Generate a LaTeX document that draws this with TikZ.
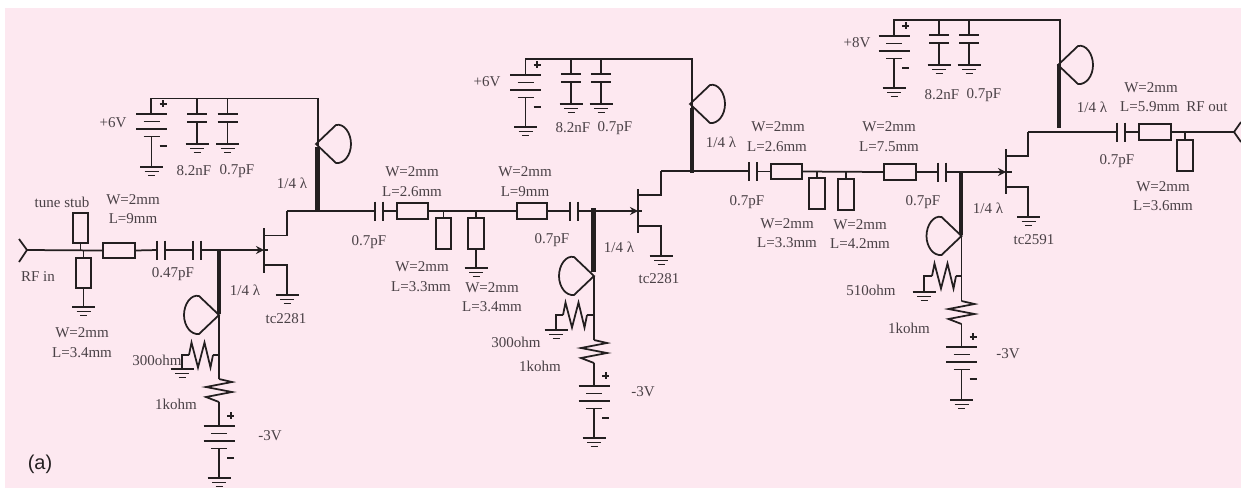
\documentclass[tikz,border=0pt]{standalone}
\usepackage{fontspec}
\setmainfont{Liberation Serif}
\newfontfamily\labsans{Liberation Sans}
\usetikzlibrary{arrows.meta}
\definecolor{pinkbg}{HTML}{FDE8F0}
\definecolor{ink}{HTML}{231F20}
\definecolor{txt}{HTML}{4A4146}
\newcounter{lbl}
\newcommand{\Lab}[3]{\stepcounter{lbl}\node[lab] (t\thelbl) at (#1,#2) {#3};}
\tikzset{
  wire/.style={draw=ink,line width=1.75pt},
  thickline/.style={draw=ink,line width=4.5pt},
  lab/.style={inner sep=0pt,text=txt,font=\fontsize{15}{15}\selectfont},
  tl/.style={rectangle,draw=ink,line width=1.75pt,inner sep=0pt,minimum width=#1},
  tl/.default=31pt,
  gndsym/.pic={\draw[wire] (-11.5,0)--(11.5,0) (-7,4.5)--(7,4.5) (-3.5,8.5)--(3.5,8.5);},
  batsym/.pic={
    \draw[wire] (-15.5,0)--(15.5,0) (-8,7.5)--(8,7.5) (-15.5,15)--(15.5,15) (-8,22.5)--(8,22.5);
    \draw[draw=ink,line width=2pt] (8,-10.5)--(15,-10.5) (11.5,-14)--(11.5,-7) (8,32)--(15,32);},
  capser/.pic={\draw[wire] (0,-9.5)--(0,9.5) (8,-9.5)--(8,9.5);},
  capshu/.pic={\draw[wire] (-10,0)--(10,0) (-10,8)--(10,8);},
  stubsym/.pic={\draw[wire] (0,0)--(20,-19) .. controls (28,-21) and (35,-11) .. (35,0) .. controls (35,11) and (28,20) .. (20,19) -- cycle;},
  resv/.pic={\draw[wire,line join=miter] (0,0)--(13,3)--(-13,8)--(13,13)--(-13,18)--(0,23);},
  resh/.pic={\draw[wire,line join=miter] (0,0)--(2.5,-12.5)--(9,12.5)--(15.5,-12.5)--(21.5,12.5)--(24,0);},
  fetbar/.style={draw=ink,line width=2pt},
  arr/.style={wire,-{Stealth[length=8pt,width=8pt]}}
}
\begin{document}
\begin{tikzpicture}[x=1pt,y=-1pt]
\useasboundingbox (0,0) rectangle (1241,488);
\fill[white] (0,0) rectangle (1241,488);
\fill[pinkbg] (5,8) rectangle (1241,488);

% ---------- input
\coordinate (rfin) at (27,250);
\draw[wire] (19,239)--(rfin)--(19,262);
\node[tl,minimum width=32pt,minimum height=15pt] (in1) at (119,250.5) {};
\node[tl,minimum width=15pt,minimum height=30pt] (tune) at (80.5,228) {};
\node[tl,minimum width=15pt,minimum height=30pt] (in2) at (83.5,273) {};
\draw[wire] (rfin)--(in1.west);
\draw[wire] (80.5,250)--(tune.south);
\draw[wire] (83.5,250)--(in2.north);
\pic at (83.5,307) {gndsym};
\draw[wire] (in2.south)--(83.5,307);
\pic at (157,250) {capser};
\pic at (193,250) {capser};
\draw[wire] (in1.east)--(157,250) (165,250)--(193,250);

% ---------- FET 1
\coordinate (g1) at (264,250);
\draw[arr] (201,250)--(g1);
\draw[wire] (g1)--(268,250);
\draw[fetbar] (264,228)--(264,273);
\draw[wire] (264,235.5)--(287,235.5)--(287,211);
\draw[wire] (264,265)--(287,265)--(287,295);
\pic at (287,295) {gndsym};

% ---------- gate bias 1
\draw[thickline] (219,250)--(219,314);
\pic[xscale=-1] at (219,315) {stubsym};
\draw[wire] (219,315)--(219,379);
\draw[wire] (219,355)--(213,355);
\pic at (189,355) {resh};
\draw[wire] (189,355)--(182,355)--(182,369);
\pic at (182,369) {gndsym};
\pic at (219,379) {resv};
\draw[wire] (219,402)--(219,426);
\pic at (219,426) {batsym};
\draw[wire] (219,448.5)--(219,478);
\pic at (219,478) {gndsym};

% ---------- drain bias 1
\draw[wire] (151,114)--(151,98.5)--(318,98.5)--(318,146);
\pic at (151.5,114) {batsym};
\draw[wire] (151.5,136.5)--(151.5,167);
\pic at (151.5,167) {gndsym};
\draw[wire] (197,98.5)--(197,114) (197,122)--(197,144);
\pic at (197,114) {capshu};
\pic at (197,144) {gndsym};
\draw[wire] (227.5,98.5)--(227.5,114) (227.5,122)--(227.5,144);
\pic at (227.5,114) {capshu};
\pic at (227.5,144) {gndsym};
\pic at (316,144) {stubsym};
\draw[thickline] (317.5,147)--(317.5,211);

% ---------- interstage 1-2
\node[tl,minimum width=31pt,minimum height=16pt] (s1) at (412.5,211) {};
\node[tl,minimum width=15pt,minimum height=31pt] (sh1) at (443.5,233.5) {};
\node[tl,minimum width=16pt,minimum height=31pt] (sh2) at (476,233.5) {};
\node[tl,minimum width=30pt,minimum height=16pt] (s2) at (532,211) {};
\draw[wire] (287,211)--(375,211) (383,211)--(s1.west);
\pic at (375,211) {capser};
\draw[wire] (s1.east)--(s2.west);
\draw[wire] (443.5,211)--(sh1.north);
\draw[wire] (476,211)--(sh2.north);
\draw[wire] (sh2.south)--(476,268);
\pic at (476,268) {gndsym};
\pic at (570,211) {capser};
\draw[wire] (s2.east)--(570,211);

% ---------- FET 2
\coordinate (g2) at (638,211);
\draw[arr] (578,211)--(g2);
\draw[wire] (g2)--(642,211);
\draw[fetbar] (638,189)--(638,233);
\draw[wire] (638,195)--(661,195)--(661,171);
\draw[wire] (638,226)--(661,226)--(661,256);
\pic at (661,256) {gndsym};

% ---------- gate bias 2
\draw[thickline] (593.5,208)--(593.5,272);
\pic[xscale=-1] at (594,276) {stubsym};
\draw[wire] (594,276)--(594,340);
\draw[wire] (594,315)--(587,315);
\pic at (563,315) {resh};
\draw[wire] (563,315)--(556,315)--(556,330);
\pic at (556,330) {gndsym};
\pic at (594,340) {resv};
\draw[wire] (594,363)--(594,386);
\pic at (594,386) {batsym};
\draw[wire] (594,408.5)--(594,438);
\pic at (594,438) {gndsym};

% ---------- drain bias 2
\draw[wire] (525.5,75)--(525.5,59)--(692,59)--(692,108);
\pic at (525.5,75) {batsym};
\draw[wire] (525.5,97.5)--(525.5,127);
\pic at (525.5,127) {gndsym};
\draw[wire] (571,59)--(571,74) (571,82)--(571,104);
\pic at (571,74) {capshu};
\pic at (571,104) {gndsym};
\draw[wire] (601,59)--(601,74) (601,82)--(601,104);
\pic at (601,74) {capshu};
\pic at (601,104) {gndsym};
\pic at (690,104) {stubsym};
\draw[thickline] (692,108)--(692,173);

% ---------- interstage 2-3
\node[tl,minimum width=31pt,minimum height=15pt] (s3) at (786.5,171.5) {};
\node[tl,minimum width=16pt,minimum height=31pt] (sh3) at (817,193.5) {};
\node[tl,minimum width=16pt,minimum height=31pt] (sh4) at (846,194.5) {};
\node[tl,minimum width=32pt,minimum height=16pt] (s4) at (900,172) {};
\draw[wire] (661,171)--(749,171) (757,171.5)--(s3.west);
\pic at (749,171.5) {capser};
\draw[wire] (s3.east)--(s4.west);
\draw[wire] (817,171.5)--(sh3.north);
\draw[wire] (846,171.5)--(sh4.north);
\pic at (938,172) {capser};
\draw[wire] (s4.east)--(938,172);

% ---------- FET 3
\coordinate (g3) at (1006,172);
\draw[arr] (946,172)--(g3);
\draw[wire] (g3)--(1012,172);
\draw[fetbar] (1006,149)--(1006,194);
\draw[wire] (1006,156)--(1028,156)--(1028,132);
\draw[wire] (1006,187)--(1028,187)--(1028,217);
\pic at (1028.5,217) {gndsym};

% ---------- gate bias 3
\draw[thickline] (961,171)--(961,235);
\pic[xscale=-1] at (961.5,236) {stubsym};
\draw[wire] (961.5,236)--(961.5,301);
\draw[wire] (961.5,276)--(956,276);
\pic at (932,276) {resh};
\draw[wire] (932,276)--(924,276)--(924,292);
\pic at (924,292) {gndsym};
\pic at (961.5,301) {resv};
\draw[wire] (961.5,324)--(961.5,347);
\pic at (961.5,347) {batsym};
\draw[wire] (961.5,369.5)--(961.5,400);
\pic at (961.5,400) {gndsym};

% ---------- drain bias 3
\draw[wire] (894,36)--(894,20)--(1060,20)--(1060,66);
\pic at (894,36) {batsym};
\draw[wire] (894,58.5)--(894,88);
\pic at (894,88) {gndsym};
\draw[wire] (939,20)--(939,35) (939,43)--(939,65);
\pic at (939,35) {capshu};
\pic at (939,65) {gndsym};
\draw[wire] (969,20)--(969,35) (969,43)--(969,65);
\pic at (969,35) {capshu};
\pic at (969,65) {gndsym};
\pic at (1058,65) {stubsym};
\draw[thickline] (1059,64)--(1059,128);

% ---------- output
\node[tl,minimum width=32pt,minimum height=16pt] (s5) at (1155,132) {};
\node[tl,minimum width=16pt,minimum height=31pt] (sh5) at (1185,155.5) {};
\coordinate (rfout) at (1234,132);
\draw[wire] (1028,132)--(1117,132) (1125,132)--(s5.west);
\pic at (1117,132) {capser};
\draw[wire] (s5.east)--(rfout);
\draw[wire] (1185,132)--(sh5.north);
\draw[wire] (1241,122)--(rfout)--(1241,142);

% ---------- labels
\Lab{62}{202}{tune stub}
\Lab{133}{200}{W=2mm}
\Lab{133}{219}{L=9mm}
\Lab{38}{277}{RF in}
\Lab{173}{274}{0.47pF}
\Lab{82}{333}{W=2mm}
\Lab{82}{353}{L=3.4mm}
\Lab{245}{290}{1/4 λ}
\Lab{292}{183}{1/4 λ}
\Lab{113}{123}{+6V}
\Lab{194}{171}{8.2nF}
\Lab{237}{171}{0.7pF}
\Lab{286}{319}{tc2281}
\Lab{157}{360}{300ohm}
\Lab{176}{404}{1kohm}
\Lab{270}{436}{-3V}
\Lab{412}{172}{W=2mm}
\Lab{412}{192}{L=2.6mm}
\Lab{525}{172}{W=2mm}
\Lab{525}{192}{L=9mm}
\Lab{369}{242}{0.7pF}
\Lab{552}{240}{0.7pF}
\Lab{619}{247}{1/4 λ}
\Lab{422}{267}{W=2mm}
\Lab{421}{287}{L=3.3mm}
\Lab{492}{288}{W=2mm}
\Lab{492}{307}{L=3.4mm}
\Lab{487}{82}{+6V}
\Lab{573}{128}{8.2nF}
\Lab{615}{128}{0.7pF}
\Lab{721}{142}{1/4 λ}
\Lab{659}{279}{tc2281}
\Lab{516}{342}{300ohm}
\Lab{540}{366}{1kohm}
\Lab{643}{392}{-3V}
\Lab{778}{127}{W=2mm}
\Lab{777}{147}{L=2.6mm}
\Lab{889}{127}{W=2mm}
\Lab{889}{147}{L=7.5mm}
\Lab{747}{202}{0.7pF}
\Lab{923}{202}{0.7pF}
\Lab{988}{208}{1/4 λ}
\Lab{787}{224}{W=2mm}
\Lab{787}{243}{L=3.3mm}
\Lab{860}{225}{W=2mm}
\Lab{860}{244}{L=4.2mm}
\Lab{871}{290}{510ohm}
\Lab{909}{328}{1kohm}
\Lab{1008}{354}{-3V}
\Lab{1034}{240}{tc2591}
\Lab{857}{43}{+8V}
\Lab{942}{95}{8.2nF}
\Lab{984}{95}{0.7pF}
\Lab{1092}{107}{1/4 λ}
\Lab{1151}{88}{W=2mm}
\Lab{1150}{107}{L=5.9mm}
\Lab{1207}{107}{RF out}
\Lab{1117}{161}{0.7pF}
\Lab{1163}{187}{W=2mm}
\Lab{1163}{206}{L=3.6mm}
\node[inner sep=0pt,text=ink,font=\labsans\fontsize{20}{20}\selectfont] (figtag) at (40,464) {(a)};
\end{tikzpicture}
\end{document}
